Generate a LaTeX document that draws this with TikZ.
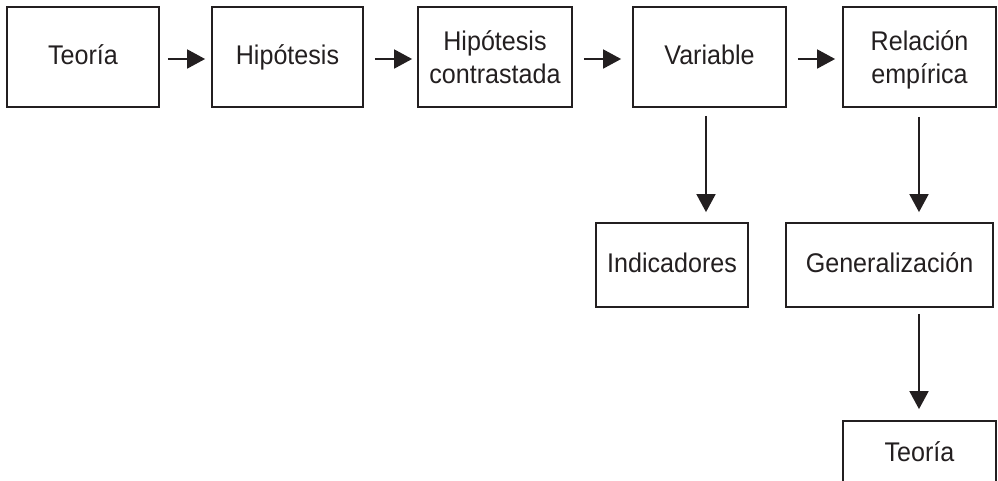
\documentclass[tikz,border=0pt]{standalone}
\usepackage{fontspec}
\setmainfont{Liberation Sans}[FakeStretch=0.93]
\usetikzlibrary{arrows.meta,calc}
\definecolor{ink}{HTML}{231F20}
\begin{document}
\begin{tikzpicture}[x=1pt,y=1pt,
  box/.style={draw=ink, line width=1.8pt, text=ink, align=center, inner sep=0pt,
    font=\fontsize{27}{33}\selectfont, text height=19.3pt, text depth=5pt},
  twoline/.style={text height=52.3pt, text depth=0pt},
  arr/.style={draw=ink, line width=1.8pt, -{Triangle[length=18pt,width=19pt]}}]
\useasboundingbox (0,0) rectangle (998,-480);
\clip (0,0) rectangle (998,-480);
\node[box, minimum width=152pt, minimum height=100pt] (t1) at (83,-57) {Teoría};
\node[box, minimum width=151pt, minimum height=100pt] (h) at (287.5,-57) {Hipótesis};
\node[box, twoline, minimum width=154pt, minimum height=100pt] (hc) at (495,-57) {Hipótesis\\contrastada};
\node[box, minimum width=153pt, minimum height=100pt] (v) at (709.5,-57) {Variable};
\node[box, twoline, minimum width=153pt, minimum height=100pt] (r) at (919.5,-57) {Relación\\empírica};
\node[box, minimum width=152pt, minimum height=84pt] (i) at (672,-265) {Indicadores};
\node[box, minimum width=207pt, minimum height=84pt] (g) at (889.5,-265) {Generalización};
\node[box, minimum width=153pt, minimum height=66pt] (t2) at (919.5,-454) {Teoría};
% horizontal arrows
\draw[arr] ($(t1.east)+(8,-2)$) -- ($(h.west)+(-6,-2)$);
\draw[arr] ($(h.east)+(11,-2)$) -- ($(hc.west)+(-5,-2)$);
\draw[arr] ($(hc.east)+(11,-2)$) -- ($(v.west)+(-11,-2)$);
\draw[arr] ($(v.east)+(11,-2)$) -- ($(r.west)+(-7,-2)$);
% vertical arrows
\draw[arr] ($(v.south)+(-3.5,-8)$) -- ($(v.south |- i.north)+(-3.5,10)$);
\draw[arr] ($(r.south)+(-0.5,-9)$) -- ($(r.south |- g.north)+(-0.5,10)$);
\draw[arr] ($(t2.north |- g.south)+(-0.5,-6)$) -- ($(t2.north)+(-0.5,11)$);
\end{tikzpicture}
\end{document}
